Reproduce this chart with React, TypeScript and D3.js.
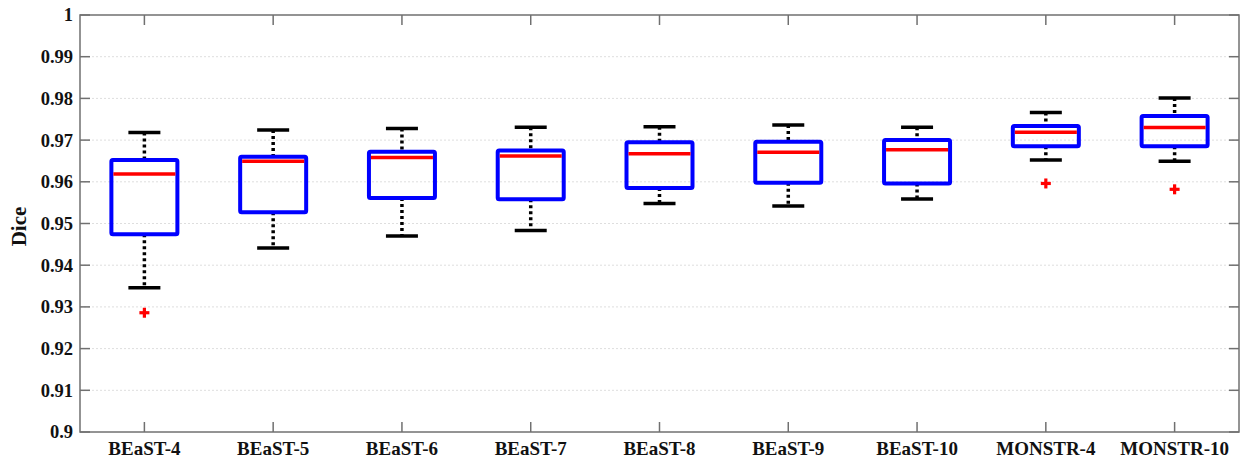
import React from "react";
import * as d3 from "d3";

const categories = ["BEaST-4", "BEaST-5", "BEaST-6", "BEaST-7", "BEaST-8", "BEaST-9", "BEaST-10", "MONSTR-4", "MONSTR-10"];
const whiskerHigh = [0.9718, 0.9724, 0.9728, 0.9731, 0.9732, 0.9736, 0.9731, 0.9766, 0.9801];
const q3 = [0.9652, 0.966, 0.9672, 0.9675, 0.9695, 0.9696, 0.97, 0.9734, 0.9758];
const medians = [0.9619, 0.9649, 0.9658, 0.9662, 0.9667, 0.9671, 0.9677, 0.9719, 0.973];
const q1 = [0.9474, 0.9527, 0.9561, 0.9558, 0.9585, 0.9598, 0.9596, 0.9685, 0.9685];
const whiskerLow = [0.9346, 0.9441, 0.947, 0.9483, 0.9548, 0.9542, 0.9559, 0.9652, 0.9649];
const outliers: [string, number][] = [["BEaST-4", 0.9286], ["MONSTR-4", 0.9596], ["MONSTR-10", 0.9582]];
const yTicks = [0.9, 0.91, 0.92, 0.93, 0.94, 0.95, 0.96, 0.97, 0.98, 0.99, 1];
const yTickLabels = ["0.9", "0.91", "0.92", "0.93", "0.94", "0.95", "0.96", "0.97", "0.98", "0.99", "1"];

const W = 1244, H = 460;
const L = 80, R = 1239, T = 15, B = 432;
const font = "'Liberation Serif', 'Times New Roman', serif";

export default function App() {
  const x = d3.scaleBand<string>().domain(categories).range([L, R]).paddingInner(0).paddingOuter(0);
  const y = d3.scaleLinear().domain([0.9, 1]).range([B, T]);
  const cx = (c: string) => (x(c) as number) + x.bandwidth() / 2;
  const boxHalf = 33;
  const capHalf = 16;
  const axisColor = "#707070";
  const tickLen = 10;

  return (
    <div style={{ position: "absolute", left: 0, top: 0 }}>
      <svg width={W} height={H} style={{ display: "block", background: "#fff" }}>
        {/* grid */}
        {yTicks.slice(1, -1).map((t) => (
          <line key={"g" + t} x1={L} x2={R} y1={y(t)} y2={y(t)} stroke="#dedede" strokeWidth={1} strokeDasharray="2,2" />
        ))}
        {/* boxes */}
        {categories.map((c, i) => {
          const xc = cx(c);
          return (
            <g key={c}>
              <line x1={xc} x2={xc} y1={y(whiskerHigh[i])} y2={y(q3[i])} stroke="#000" strokeWidth={3.5} strokeDasharray="3,3" />
              <line x1={xc} x2={xc} y1={y(q1[i])} y2={y(whiskerLow[i])} stroke="#000" strokeWidth={3.5} strokeDasharray="3,3" />
              <line x1={xc - capHalf} x2={xc + capHalf} y1={y(whiskerHigh[i])} y2={y(whiskerHigh[i])} stroke="#000" strokeWidth={3.5} />
              <line x1={xc - capHalf} x2={xc + capHalf} y1={y(whiskerLow[i])} y2={y(whiskerLow[i])} stroke="#000" strokeWidth={3.5} />
              <rect x={xc - boxHalf} width={boxHalf * 2} y={y(q3[i])} height={y(q1[i]) - y(q3[i])} fill="none" stroke="#0000ff" strokeWidth={4} strokeLinejoin="round" rx={1.5} />
              <line x1={xc - boxHalf + 2} x2={xc + boxHalf - 2} y1={y(medians[i])} y2={y(medians[i])} stroke="#ff0000" strokeWidth={3.5} />
            </g>
          );
        })}
        {/* outliers */}
        {outliers.map(([c, v]) => {
          const xc = cx(c);
          const yy = y(v);
          return (
            <g key={"o" + c} stroke="#ff0000" strokeWidth={3.2}>
              <line x1={xc - 5} x2={xc + 5} y1={yy} y2={yy} />
              <line x1={xc} x2={xc} y1={yy - 5} y2={yy + 5} />
            </g>
          );
        })}
        {/* axes frame */}
        <rect x={L} y={T} width={R - L} height={B - T} fill="none" stroke={axisColor} strokeWidth={1.5} />
        {yTicks.map((t) => (
          <g key={"yt" + t}>
            <line x1={L} x2={L + tickLen} y1={y(t)} y2={y(t)} stroke={axisColor} strokeWidth={1.5} />
            <line x1={R} x2={R - tickLen} y1={y(t)} y2={y(t)} stroke={axisColor} strokeWidth={1.5} />
          </g>
        ))}
        {categories.map((c) => (
          <g key={"xt" + c}>
            <line x1={cx(c)} x2={cx(c)} y1={B} y2={B - tickLen} stroke={axisColor} strokeWidth={1.5} />
            <line x1={cx(c)} x2={cx(c)} y1={T} y2={T + tickLen} stroke={axisColor} strokeWidth={1.5} />
          </g>
        ))}
        {/* labels */}
        {yTicks.map((t, i) => (
          <text key={"yl" + t} x={L - 7} y={y(t)} dy="0.35em" textAnchor="end" fontFamily={font} fontWeight="bold" fontSize={18.5} fill="#111">
            {yTickLabels[i]}
          </text>
        ))}
        {categories.map((c) => (
          <text key={"xl" + c} x={cx(c)} y={455} textAnchor="middle" fontFamily={font} fontWeight="bold" fontSize={19} fill="#111">
            {c}
          </text>
        ))}
        <text transform={`translate(26, ${(T + B) / 2 + 3}) rotate(-90)`} textAnchor="middle" fontFamily={font} fontWeight="bold" fontSize={21} fill="#111">
          Dice
        </text>
      </svg>
    </div>
  );
}
